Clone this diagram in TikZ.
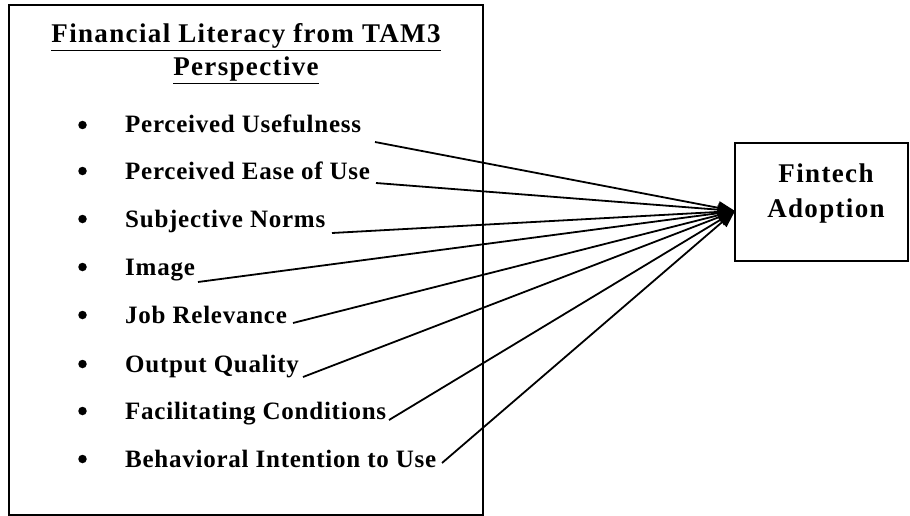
\documentclass[tikz,border=0pt]{standalone}
\usepackage{fontspec}
\setmainfont{Liberation Serif}
\newfontfamily\spacedserif[LetterSpace=3]{Liberation Serif}
\newfontfamily\widespacedserif[LetterSpace=5]{Liberation Serif}
\usetikzlibrary{arrows.meta}
\begin{document}
\begin{tikzpicture}[x=1pt,y=-1pt,
  frame/.style={draw=black,line width=2.6pt},
  itemtext/.style={font=\spacedserif\fontsize{25}{30}\selectfont\bfseries,anchor=base west,inner sep=0pt},
  bul/.style={circle,fill=black,minimum size=8.5pt,inner sep=0pt},
  titletext/.style={font=\widespacedserif\fontsize{27}{33}\selectfont\bfseries,anchor=base,inner sep=0pt},
  link/.style={line width=1.8pt,-{Triangle[length=17pt,width=13pt]}}]
\useasboundingbox (0,0) rectangle (910,516);
% left panel with its heading
\draw[frame] (9,5) rectangle (483,515);
\node[titletext] (title1) at (246,43) {\underline{Financial Literacy from TAM3}};
\node[titletext] (title2) at (246,76) {\underline{Perspective}};
% right box
\draw[frame] (735,143) rectangle (908,261);
\node[titletext] (fa1) at (826,182) {Fintech};
\node[titletext] (fa2) at (826,217) {Adoption};
\coordinate (tip) at (735,211);
% bulleted list
\foreach \i/\y/\t in {1/133/Perceived Usefulness,2/179/Perceived Ease of Use,3/227/Subjective Norms,4/275/Image,5/323/Job Relevance,6/372/Output Quality,7/419/Facilitating Conditions,8/467/Behavioral Intention to Use}{
  \node[bul] (b\i) at (82.5,\y-8) {};
  \node[itemtext] (t\i) at (125,\y) {\t};
}
% line origins
\coordinate (s1) at (375,142);
\coordinate (s2) at (376,183);
\coordinate (s3) at (332,233);
\coordinate (s4) at (198,282);
\coordinate (s5) at (293,323);
\coordinate (s6) at (303,377);
\coordinate (s7) at (389,420);
\coordinate (s8) at (442,463);
\foreach \i in {1,...,8}{\draw[link] (s\i) -- (tip);}
\end{tikzpicture}
\end{document}
